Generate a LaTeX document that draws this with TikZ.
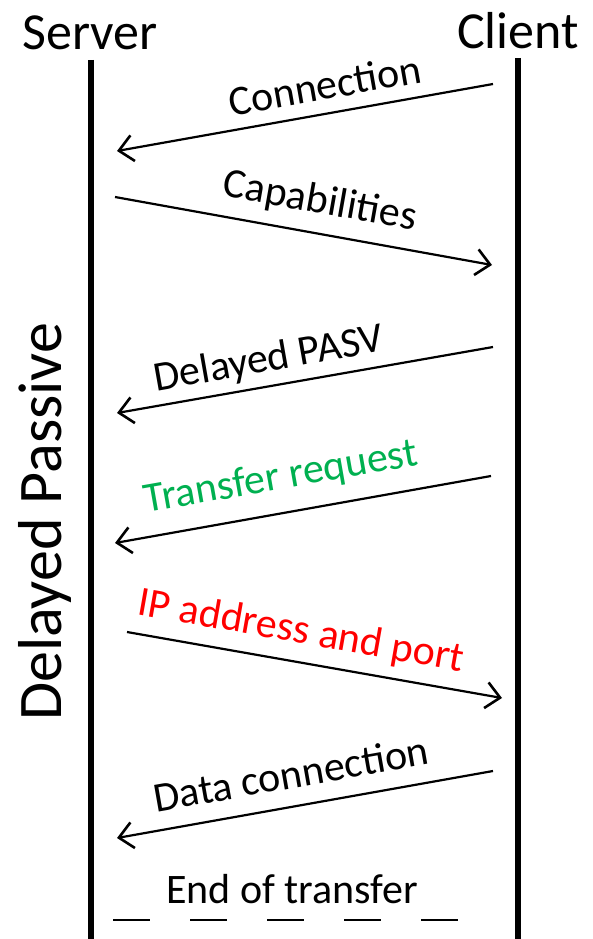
\documentclass[tikz,border=0pt]{standalone}
\usepackage{fontspec}
\setmainfont{Carlito}
\usetikzlibrary{arrows.meta}
\definecolor{okgreen}{RGB}{0,176,80}
\definecolor{okred}{RGB}{255,0,0}
\begin{document}
\begin{tikzpicture}[x=1pt,y=-1pt,
  lifeline/.style={line width=6pt},
  msg/.style={line width=2.2pt,-{Straight Barb[length=14pt,width=26pt,line width=2.6pt]}},
  title/.style={font=\fontsize{52}{60}\selectfont,inner sep=0pt},
  lbl/.style={font=\fontsize{42}{48}\selectfont,inner sep=0pt},
  endline/.style={line width=2pt,dash pattern=on 37pt off 40pt}]
\useasboundingbox (0,0) rectangle (593,939);
\node[title] (server) at (90,33) {Server};
\node[title] (client) at (518,31) {Client};
\coordinate (stop) at (91,60);
\coordinate (sbot) at (91,939);
\coordinate (ctop) at (518,58);
\coordinate (cbot) at (518,939);
\draw[lifeline] (stop) -- (sbot);
\draw[lifeline] (ctop) -- (cbot);
\node[font=\fontsize{62}{70}\selectfont,inner sep=0pt,rotate=90] (mode) at (45,522) {Delayed Passive};
% messages
\coordinate (a1) at (493,84);  \coordinate (b1) at (117,151);
\coordinate (a2) at (115,197); \coordinate (b2) at (492,265);
\coordinate (a3) at (493,347); \coordinate (b3) at (117,413);
\coordinate (a4) at (491,476); \coordinate (b4) at (115,543);
\coordinate (a5) at (127,632); \coordinate (b5) at (502,698);
\coordinate (a6) at (493,771); \coordinate (b6) at (117,838);
\draw[msg] (a1) -- (b1);
\draw[msg] (a2) -- (b2);
\draw[msg] (a3) -- (b3);
\draw[msg] (a4) -- (b4);
\draw[msg] (a5) -- (b5);
\draw[msg] (a6) -- (b6);
\node[lbl,rotate=10] (l1) at (325,85) {Connection};
\node[lbl,rotate=-10] (l2) at (320,202) {Capabilities};
\node[lbl,rotate=10] (l3) at (269,360) {Delayed PASV};
\node[lbl,rotate=10,text=okgreen] (l4) at (281,478) {Transfer request};
\node[lbl,rotate=-10,text=okred] (l5) at (301,632) {IP address and port};
\node[lbl,rotate=10] (l6) at (291,774) {Data connection};
\node[lbl] (l7) at (292,889) {End of transfer};
\coordinate (e1) at (113,920);
\coordinate (e2) at (460,920);
\draw[endline] (e1) -- (e2);
\end{tikzpicture}
\end{document}
